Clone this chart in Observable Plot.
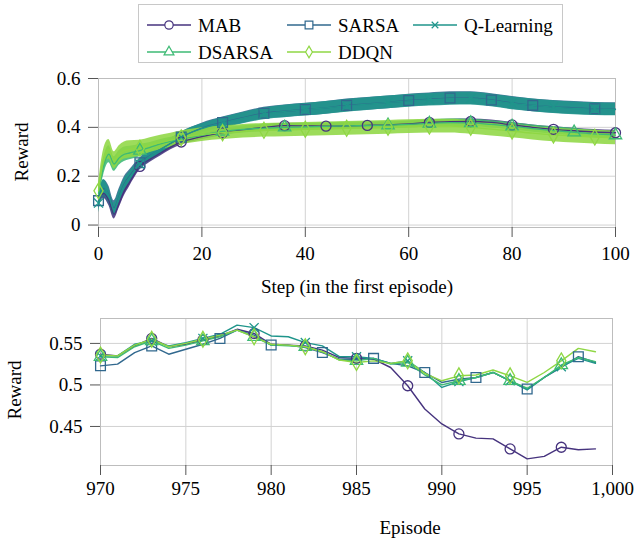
<!DOCTYPE html>
<html><head><meta charset="utf-8">
<script src="https://cdn.jsdelivr.net/npm/d3@7"></script>
<script src="https://cdn.jsdelivr.net/npm/@observablehq/plot@0.6"></script>
<style>
body{margin:0;background:#fff;}
#root{position:relative;width:642px;height:542px;font-family:"Liberation Serif","DejaVu Serif",serif;color:#000;}
.abs{position:absolute;white-space:nowrap;font-size:19px;}
</style></head><body><div id="root"></div>
<script>
// ---------- series meta ----------
const names = ["MAB","SARSA","Q-Learning","DSARSA","DDQN"];
const colors = ["#46337e","#31688e","#1f958b","#3dba74","#8fd744"];
const symbols = ["circle","square","times","triangle","diamond"];

// ---------- top chart: first episode ----------
const steps = [0,1,2,3,4,5,6,8,10,12,14,16,18,20,24,28,32,36,40,44,48,52,56,60,64,68,72,76,80,84,88,92,96,100];
const mabMean = [.10,.13,.10,.045,.09,.14,.175,.24,.27,.295,.32,.34,.352,.362,.378,.39,.40,.407,.406,.405,.406,.408,.41,.414,.42,.423,.424,.42,.41,.40,.392,.386,.381,.378];
const mabSd   = [.02,.02,.02,.02,.02,.02,.018,.015,.013,.012,.012,.012,.012,.012,.012,.01,.01,.01,.01,.01,.01,.01,.01,.01,.01,.01,.01,.01,.01,.01,.01,.01,.01,.01];
const sarsaMean = [.10,.15,.125,.07,.12,.17,.20,.255,.285,.31,.335,.36,.38,.397,.42,.44,.458,.466,.473,.48,.49,.496,.502,.51,.515,.52,.52,.512,.50,.49,.484,.48,.476,.475];
const sarsaSd   = [.03,.035,.035,.03,.03,.028,.025,.02,.02,.02,.02,.02,.02,.02,.022,.023,.024,.026,.026,.026,.026,.026,.026,.026,.026,.026,.026,.026,.026,.026,.026,.026,.026,.026];
const qlMean = [.09,.155,.12,.065,.115,.165,.195,.25,.283,.31,.335,.36,.38,.395,.418,.438,.455,.465,.472,.48,.488,.495,.502,.508,.513,.517,.518,.51,.498,.49,.483,.478,.475,.473];
const qlSd   = [.04,.03,.03,.025,.025,.025,.022,.02,.02,.02,.02,.02,.02,.02,.022,.023,.024,.026,.026,.026,.026,.026,.026,.026,.026,.026,.026,.026,.026,.026,.026,.026,.026,.026];
const dsarsaMean = [.13,.24,.29,.25,.275,.29,.295,.305,.318,.332,.343,.353,.36,.368,.383,.392,.397,.40,.402,.404,.406,.407,.409,.412,.416,.419,.418,.412,.404,.395,.387,.38,.373,.368];
const dsarsaSd   = [.03,.035,.035,.03,.03,.03,.028,.025,.02,.018,.016,.015,.015,.015,.015,.015,.015,.015,.015,.015,.015,.015,.015,.015,.015,.015,.015,.015,.015,.015,.015,.015,.015,.015];
const ddqnMean = [.14,.27,.31,.265,.29,.305,.31,.315,.327,.338,.348,.357,.364,.37,.378,.384,.388,.39,.392,.394,.396,.398,.40,.403,.405,.405,.40,.393,.385,.376,.369,.364,.36,.357];
const ddqnSd   = [.03,.04,.04,.035,.035,.035,.035,.032,.03,.03,.028,.028,.028,.028,.028,.028,.028,.028,.028,.028,.028,.028,.028,.028,.028,.028,.028,.028,.028,.028,.028,.028,.028,.028];
const mabMarks = [8,16,24,36,44,52,64,72,80,88,100];
const sarsaMarks = [0,8,16,24,32,40,48,60,68,76,84,96];
const qlMarks = [0,8,16,24,32,40,48,56,64,72,80,88,96];
const dsarsaMarks = [8,24,36,56,64,72,80,92,100];
const ddqnMarks = [0,8,16,24,32,40,48,56,64,72,80,88,96];
const topXTicks = [0,20,40,60,80,100];
const topYTicks = [0,0.2,0.4,0.6];

// ---------- bottom chart: last episodes ----------
const episodes = [970,971,972,973,974,975,976,977,978,979,980,981,982,983,984,985,986,987,988,989,990,991,992,993,994,995,996,997,998,999];
const mabEp    = [.537,.535,.547,.556,.546,.549,.554,.559,.567,.562,.549,.548,.547,.542,.533,.532,.531,.521,.499,.471,.453,.441,.436,.435,.423,.411,.414,.425,.422,.423];
const sarsaEp  = [.523,.525,.539,.547,.537,.543,.549,.556,.566,.560,.548,.548,.545,.539,.531,.531,.532,.526,.523,.515,.503,.507,.509,.515,.505,.495,.509,.521,.534,.527];
const qlEp     = [.535,.535,.549,.553,.547,.551,.556,.561,.572,.569,.559,.558,.551,.547,.534,.534,.532,.526,.529,.515,.497,.504,.509,.515,.505,.494,.509,.522,.532,.526];
const dsarsaEp = [.534,.533,.546,.553,.544,.548,.553,.558,.566,.558,.548,.547,.546,.540,.530,.529,.532,.525,.527,.512,.500,.505,.509,.515,.505,.496,.509,.524,.533,.528];
const ddqnEp   = [.536,.535,.548,.555,.546,.550,.555,.560,.566,.558,.549,.548,.546,.540,.530,.527,.529,.526,.529,.514,.505,.511,.512,.518,.511,.503,.515,.529,.544,.540];
const mabEpMarks = [970,973,976,979,982,985,988,991,994,997];
const sarsaEpMarks = [970,973,977,980,983,986,989,992,995,998];
const qlEpMarks = [970,973,976,979,982,985,988,991,994,997];
const dsarsaEpMarks = [970,973,976,979,982,985,988,991,994,997];
const ddqnEpMarks = [970,973,976,979,982,985,988,991,994,997];
const botXTicks = [970,975,980,985,990,995,1000];
const botYTicks = [0.45,0.5,0.55];

// ---------- build ----------
const topMeans = [mabMean,sarsaMean,qlMean,dsarsaMean,ddqnMean];
const topSds = [mabSd,sarsaSd,qlSd,dsarsaSd,ddqnSd];
const topMarks = [mabMarks,sarsaMarks,qlMarks,dsarsaMarks,ddqnMarks];
const botVals = [mabEp,sarsaEp,qlEp,dsarsaEp,ddqnEp];
const botMarks = [mabEpMarks,sarsaEpMarks,qlEpMarks,dsarsaEpMarks,ddqnEpMarks];
const markR = [5,5.5,4.2,4.6,4.8];

const style = {fontFamily:'"Liberation Serif", serif', fontSize:"19px", color:"#000", background:"transparent", overflow:"visible"};
const gridStyle = {stroke:"#d2d2d2", strokeOpacity:1, strokeWidth:1};

const topRows = names.map((n,i)=>steps.map((s,j)=>({x:s,y:topMeans[i][j],lo:topMeans[i][j]-topSds[i][j],hi:topMeans[i][j]+topSds[i][j]})));
const botRows = names.map((n,i)=>episodes.map((e,j)=>({x:e,y:botVals[i][j]})));

const topMarksArr = [
  Plot.gridX(topXTicks, gridStyle),
  Plot.gridY(topYTicks, gridStyle),
  Plot.frame({stroke:"#bdbdbd"}),
  ...names.map((n,i)=>Plot.areaY(topRows[i],{x:"x",y1:"lo",y2:"hi",fill:colors[i],fillOpacity:0.88,curve:"monotone-x"})),
  ...names.map((n,i)=>Plot.line(topRows[i],{x:"x",y:"y",stroke:colors[i],strokeWidth:1.3,curve:"monotone-x"})),
  ...names.map((n,i)=>Plot.dot(topRows[i].filter(d=>topMarks[i].includes(d.x)),{x:"x",y:"y",symbol:()=>symbols[i],r:markR[i],stroke:colors[i],fill:"none",strokeWidth:1.3})),
  Plot.axisX(topXTicks,{tickSize:10,tickPadding:9,stroke:"#555",label:null}),
  Plot.axisY(topYTicks,{tickSize:10,tickPadding:8,stroke:"#555",label:null,tickFormat:d=>String(d)})
];
const topPlot = Plot.plot({
  width:642,height:300,marginLeft:98,marginRight:27,marginTop:78,marginBottom:73,
  style, x:{domain:[0,100]}, y:{domain:[-0.01,0.6]}, symbol:{type:"identity"},
  marks: topMarksArr
});

const botMarksArr = [
  Plot.gridX(botXTicks, gridStyle),
  Plot.gridY(botYTicks, gridStyle),
  Plot.frame({stroke:"#bdbdbd"}),
  ...names.map((n,i)=>Plot.line(botRows[i],{x:"x",y:"y",stroke:colors[i],strokeWidth:1.4})),
  ...names.map((n,i)=>Plot.dot(botRows[i].filter(d=>botMarks[i].includes(d.x)),{x:"x",y:"y",symbol:()=>symbols[i],r:markR[i],stroke:colors[i],fill:"none",strokeWidth:1.3})),
  Plot.axisX(botXTicks,{tickSize:10,tickPadding:6,stroke:"#555",label:null,tickFormat:d3.format(",")}),
  Plot.axisY(botYTicks,{tickSize:10,tickPadding:8,stroke:"#555",label:null,tickFormat:d=>String(d)})
];
const botPlot = Plot.plot({
  width:642,height:242,marginLeft:100,marginRight:30,marginTop:18,marginBottom:77,
  style, x:{domain:[970,1000]}, y:{domain:[0.403,0.58]}, symbol:{type:"identity"},
  marks: botMarksArr
});

const root = document.getElementById("root");
topPlot.style.position="absolute"; topPlot.style.left="0px"; topPlot.style.top="0px";
botPlot.style.position="absolute"; botPlot.style.left="0px"; botPlot.style.top="300px";
root.appendChild(topPlot); root.appendChild(botPlot);

function addText(txt,cx,cy,rot){
  const d=document.createElement("div"); d.className="abs"; d.textContent=txt;
  d.style.left=cx+"px"; d.style.top=cy+"px";
  d.style.transform="translate(-50%,-50%)"+(rot?" rotate(-90deg)":"");
  root.appendChild(d);
}
addText("Step (in the first episode)",357,287,false);
addText("Episode",410,528,false);
addText("Reward",22,152,true);
addText("Reward",15,390,true);

// ---------- legend ----------
const legendItems = [[0,147,25],[1,287,25],[2,413,25],[3,147,52],[4,287,52]];
const symMap = {circle:d3.symbolCircle,square:d3.symbolSquare,times:d3.symbolTimes,triangle:d3.symbolTriangle,diamond:d3.symbolDiamond};
const lsz = {circle:55,square:60,times:30,triangle:42,diamond:40};
const lg = d3.select(root).append("svg").attr("width",642).attr("height",70)
  .style("position","absolute").style("left","0px").style("top","0px")
  .style("font-family",'"Liberation Serif", serif').style("font-size","19px");
lg.append("rect").attr("x",138.5).attr("y",4.5).attr("width",424).attr("height",58)
  .attr("fill","#fff").attr("stroke","#c8c8c8");
legendItems.forEach(([i,x,y])=>{
  const g=lg.append("g");
  g.append("line").attr("x1",x).attr("x2",x+44).attr("y1",y).attr("y2",y).attr("stroke",colors[i]).attr("stroke-width",1.3);
  g.append("path").attr("d",d3.symbol(symMap[symbols[i]],lsz[symbols[i]])()).attr("transform",`translate(${x+22},${y})`)
    .attr("fill","#fff").attr("stroke",colors[i]).attr("stroke-width",1.2);
  g.append("text").attr("x",x+51).attr("y",y).attr("dy","0.35em").text(names[i]);
});
</script></body></html>
